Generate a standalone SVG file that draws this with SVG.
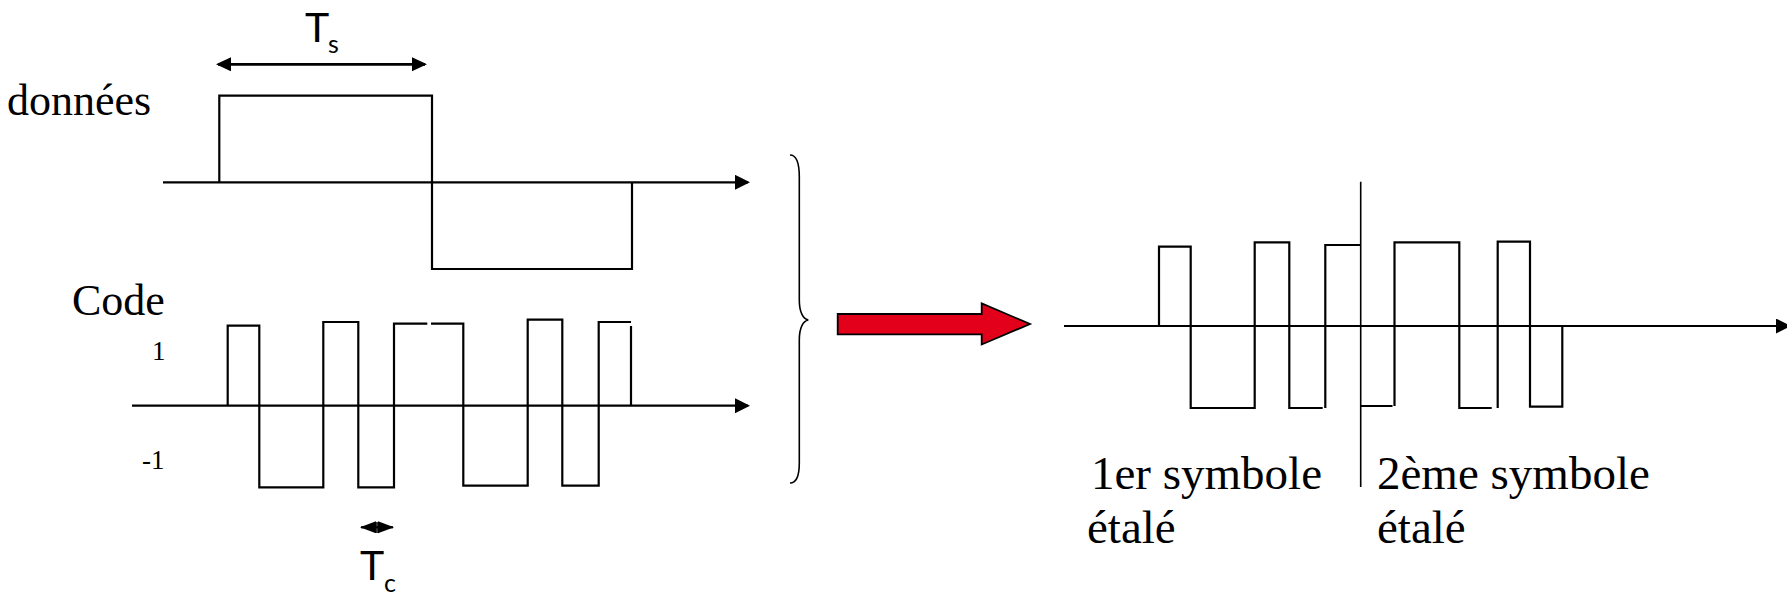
<svg xmlns="http://www.w3.org/2000/svg" width="1787" height="596" viewBox="0 0 1787 596">
  <style>
    .sig { fill: none; stroke: #000; stroke-width: 2.2; stroke-linejoin: miter; stroke-linecap: butt; }
    .axis { fill: none; stroke: #000; stroke-width: 2.2; }
    .dim { fill: none; stroke: #000; stroke-width: 2.8; }
    .thin { fill: none; stroke: #000; stroke-width: 1.6; }
    .serif { font-family: "Liberation Serif", "Times New Roman", serif; fill: #000; }
    .sans { font-family: Lato, "Open Sans", sans-serif; fill: #000; }
  </style>
  <defs>
    <marker id="axisHead" markerUnits="userSpaceOnUse" markerWidth="16" markerHeight="16" refX="13" refY="7.5" orient="auto">
      <path d="M0,0 L15,7.5 L0,15 Z" fill="#000"/>
    </marker>
    <marker id="dimHead" markerUnits="userSpaceOnUse" markerWidth="16" markerHeight="16" refX="13" refY="7" orient="auto-start-reverse">
      <path d="M0,0 L15,7 L0,14 Z" fill="#000"/>
    </marker>
    <marker id="smallHead" markerUnits="userSpaceOnUse" markerWidth="18" markerHeight="14" refX="15" refY="6" orient="auto-start-reverse">
      <path d="M0,0 L16,6 L0,12 Z" fill="#000"/>
    </marker>
  </defs>

  <!-- data signal -->
  <g id="data">
    <text class="serif" x="7" y="115" font-size="44">données</text>
    <line class="axis" x1="163" y1="182.3" x2="748" y2="182.3" marker-end="url(#axisHead)"/>
    <path class="sig" d="M219.3,182.3 V95.7 H432 V269 H632 V182.3"/>
  </g>

  <!-- symbol duration -->
  <g id="ts">
    <line class="dim" x1="218" y1="64.3" x2="425" y2="64.3" marker-start="url(#dimHead)" marker-end="url(#dimHead)"/>
    <text class="sans" x="305" y="41.7" font-size="41">T</text>
    <text class="sans" x="328" y="53" font-size="25">s</text>
  </g>

  <!-- spreading code -->
  <g id="code">
    <text class="serif" x="72" y="315" font-size="44">Code</text>
    <text class="serif" x="152" y="360" font-size="27">1</text>
    <text class="serif" x="142" y="469" font-size="27">-1</text>
    <line class="axis" x1="132" y1="405.7" x2="748" y2="405.7" marker-end="url(#axisHead)"/>
    <path class="sig" d="M227.7,405.7 V325.7 H259.3 V487.3 H323.3 V322 H358.3 V487.3 H394 V323.7 H427.3 M431,323.7 H463.3 V485.7 H527.7 V319.7 H562.3 V485.7 H598.7 V322 H631 M631,326 V405.7"/>
  </g>

  <!-- chip duration -->
  <g id="tc">
    <line class="axis" x1="361" y1="527.3" x2="393" y2="527.3" marker-start="url(#smallHead)" marker-end="url(#smallHead)"/>
    <line class="thin" x1="377" y1="522" x2="377" y2="533"/>
    <text class="sans" x="360" y="580" font-size="41">T</text>
    <text class="sans" x="384" y="592" font-size="25">c</text>
  </g>

  <!-- brace grouping both signals -->
  <g id="brace">
    <path class="thin" d="M790,155 C797,155 799.3,165 799.3,177 V300 C799.3,312 803,319 808.3,320 C803,321 799.3,328 799.3,340 V463 C799.3,475 797,483 790,483"/>
  </g>

  <!-- red block arrow -->
  <g id="arrow">
    <polygon points="837.7,314 981.7,314 981.7,303.3 1030,324 981.7,344.5 981.7,334.3 837.7,334.3" fill="#E2001A" stroke="#000" stroke-width="1.8" stroke-linejoin="miter"/>
  </g>

  <!-- spread signal -->
  <g id="spread">
    <line class="axis" x1="1064" y1="326" x2="1789" y2="326" marker-end="url(#axisHead)"/>
    <line class="thin" x1="1360.7" y1="181.7" x2="1360.7" y2="487"/>
    <path class="sig" d="M1159,326 V246.7 H1190.7 V408 H1254.7 V242.3 H1289.3 V408 H1322.7 M1325.3,408 V245 H1360.7 M1360.7,406 H1392.5 M1394.5,406 V242.3 H1459.3 V408 H1491.7 M1497.7,408 V241.7 H1530 V406.7 H1562.3 V326"/>
    <text class="serif" x="1091" y="489" font-size="47">1er symbole</text>
    <text class="serif" x="1087" y="543" font-size="47">étalé</text>
    <text class="serif" x="1377" y="489" font-size="47">2ème symbole</text>
    <text class="serif" x="1377" y="543" font-size="47">étalé</text>
  </g>
</svg>
